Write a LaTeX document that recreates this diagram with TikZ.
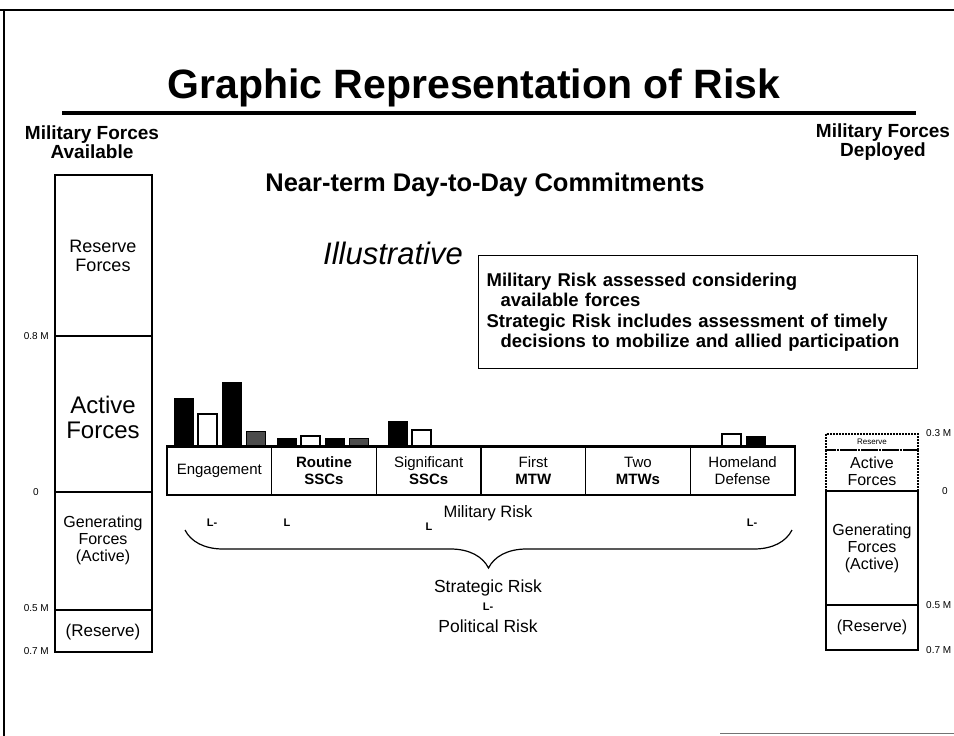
\documentclass[tikz,border=0pt]{standalone}
\usepackage{fontspec}
\setmainfont{Liberation Sans}
\usetikzlibrary{decorations.pathreplacing}

\begin{document}
\begin{tikzpicture}[x=1pt,y=-1pt,
  hdr/.style={font=\fontsize{19}{19}\selectfont\bfseries, align=center},
  colbox/.style={line width=2pt},
  coltxt/.style={font=\fontsize{16}{17}\selectfont, align=center},
  tick/.style={font=\fontsize{10}{11}\selectfont, inner sep=1pt},
  cell/.style={draw, line width=1.6pt, minimum width=104.67pt, minimum height=48pt, inner sep=0pt,
               font=\fontsize{15}{17}\selectfont, align=center},
  blk/.style={fill=black, draw=black, line width=1pt},
  wht/.style={fill=white, draw=black, line width=2.4pt},
  gry/.style={fill=black!70, draw=black, line width=1pt},
  risk/.style={font=\fontsize{16.5}{18}\selectfont},
  lmark/.style={font=\fontsize{11}{12}\selectfont\bfseries, inner sep=0pt}]
\useasboundingbox (0,0) rectangle (954,736);

% slide frame
\draw[line width=1.5pt] (0,10) -- (954,10);
\draw[line width=1.5pt] (4,10) -- (4,736);
\draw[black!55, line width=1pt] (720,733) -- (954,733);

% title
\node[font=\fontsize{41}{44}\selectfont\bfseries] (title) at (474,88) {Graphic Representation of Risk};
\draw[line width=4pt] (62,113) -- (916,113);

% forces available
\node[hdr] (avail) at (92,142) {Military Forces\\Available};
\draw[colbox] (55,175) rectangle (152,652);
\foreach \y in {336,492,610}
  \draw[line width=1.5pt] (55,\y) -- (152,\y);
\node[coltxt, font=\fontsize{18}{19}\selectfont] (resL) at (103,256) {Reserve\\Forces};
\node[coltxt, font=\fontsize{24}{25}\selectfont] (actL) at (103,417) {Active\\Forces};
\node[coltxt] (genL) at (103,540) {Generating\\Forces\\(Active)};
\node[coltxt, font=\fontsize{17}{18}\selectfont] (rsvL) at (103,632) {(Reserve)};
\node[tick, anchor=east] (t08) at (50,336) {0.8 M};
\node[tick, anchor=east] (t0) at (40,492) {0};
\node[tick, anchor=east] (t05) at (50,608) {0.5 M};
\node[tick, anchor=east] (t07) at (50,651) {0.7 M};

% headings
\node[font=\fontsize{25.5}{27}\selectfont\bfseries] (near) at (485,185) {Near-term Day-to-Day Commitments};
\node[font=\fontsize{31}{33}\selectfont\itshape] (illus) at (393,253) {Illustrative};
\node[draw, line width=1.2pt, anchor=north west, minimum width=439pt, minimum height=113pt,
      text width=423pt, inner xsep=8pt, align=left,
      font=\fontsize{18.5}{20.5}\selectfont\bfseries] (note) at (478,255)
  {Military Risk assessed considering\\
   \hspace*{14pt}available forces\\
   Strategic Risk includes assessment of timely\\
   \hspace*{14pt}decisions to mobilize and allied participation};

% commitment bars
\foreach \xa/\top/\sty in {174/398/blk, 198/414/wht, 222/382/blk, 246/431/gry,
                           277/438/blk, 301/436/wht, 325/438/blk, 349/438/gry,
                           388/421/blk, 412/430/wht, 722/434/wht, 746/436/blk}
  \draw[\sty] (\xa,447) rectangle ({\xa+19},\top);

% commitment categories
\foreach \i/\name/\txt in {0/eng/Engagement, 1/rssc/{\textbf{Routine}\\\textbf{SSCs}},
                           2/sssc/{Significant\\\textbf{SSCs}}, 3/mtw/{First\\\textbf{MTW}},
                           4/mtws/{Two\\\textbf{MTWs}}, 5/home/{Homeland\\Defense}}
  \node[cell] (\name) at ({219.3+\i*104.67},471) {\txt};
\draw[line width=3pt] (eng.north west) -- (home.north east);

% risk
\node[risk] (milrisk) at (488,513) {Military Risk};
\node[lmark] (l1) at (212,523) {L-};
\node[lmark] (l2) at (287,523) {L};
\node[lmark] (l3) at (429,527) {L};
\node[lmark] (l4) at (752,523) {L-};
\coordinate (bl) at (185,530);
\coordinate (br) at (792,530);
\draw[decorate, decoration={brace, mirror, amplitude=38pt, aspect=0.5}, line width=1.2pt] (bl) -- (br);
\node[risk, font=\fontsize{17.5}{19}\selectfont] (strat) at (488,588) {Strategic Risk};
\node[lmark] (l5) at (488,607) {L-};
\node[risk, font=\fontsize{17.5}{19}\selectfont] (polit) at (488,626) {Political Risk};

% forces deployed
\node[hdr] (depl) at (883,142) {Military Forces\\Deployed};
\draw[line width=2pt, densely dotted] (826,434) rectangle (918,450);
\draw[line width=2.5pt, densely dotted] (826,450) -- (918,450);
\draw[line width=2pt, densely dotted] (826,450) -- (826,491) (918,450) -- (918,491);
\draw[colbox] (826,491) rectangle (918,650);
\draw[line width=1.5pt] (826,605) -- (918,605);
\node[coltxt, font=\fontsize{8}{8}\selectfont, inner sep=0pt] (resR) at (872,442) {Reserve};
\node[coltxt] (actR) at (872,471) {Active\\Forces};
\node[coltxt] (genR) at (872,548) {Generating\\Forces\\(Active)};
\node[coltxt] (rsvR) at (872,627) {(Reserve)};
\node[tick, anchor=west] (r03) at (925,433) {0.3 M};
\node[tick, anchor=west] (r0) at (941,491) {0};
\node[tick, anchor=west] (r05) at (925,605) {0.5 M};
\node[tick, anchor=west] (r07) at (925,650) {0.7 M};
\end{tikzpicture}
\end{document}
